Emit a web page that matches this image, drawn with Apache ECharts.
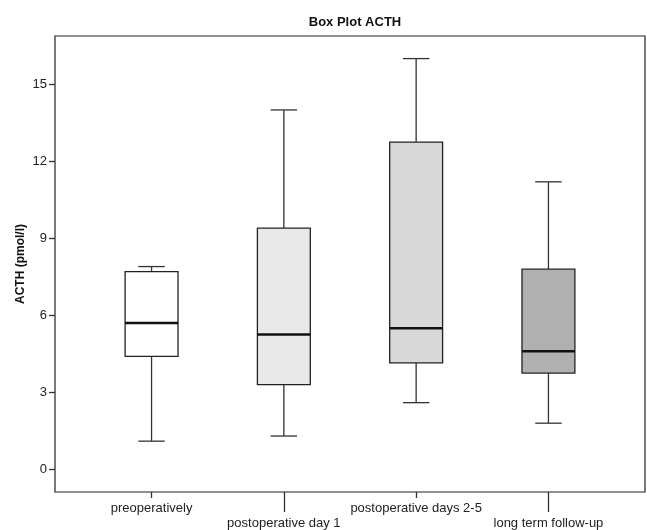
<!DOCTYPE html>
<html>
<head>
<meta charset="utf-8">
<script src="https://cdn.jsdelivr.net/npm/echarts@6/dist/echarts.min.js"></script>
<style>
html,body{margin:0;padding:0;background:#fff;}
#chart{width:647px;height:530px;}
</style>
</head>
<body>
<div id="chart"></div>
<script>
// ---- data ----
var categories = ['preoperatively', 'postoperative day 1', 'postoperative days 2-5', 'long term follow-up'];
var minVals = [1.1, 1.3, 2.6, 1.8];
var q1Vals = [4.4, 3.3, 4.15, 3.75];
var medVals = [5.7, 5.25, 5.5, 4.6];
var q3Vals = [7.7, 9.4, 12.75, 7.8];
var maxVals = [7.9, 14.0, 16.0, 11.2];
var yTicks = [0, 3, 6, 9, 12, 15];
var titleText = 'Box Plot ACTH';
var yName = 'ACTH (pmol/l)';

// ---- styles ----
var boxFills = ['#ffffff', '#e9e9e9', '#d9d9d9', '#b0b0b0'];
var FONT = 'Liberation Sans, Arial, sans-serif';

var boxData = categories.map(function (c, i) {
  return [i, minVals[i], q1Vals[i], medVals[i], q3Vals[i], maxVals[i]];
});
var evenIdx = [], oddIdx = [];
categories.forEach(function (c, i) { (i % 2 === 0 ? evenIdx : oddIdx).push(i); });

function catLabel(v) { var i = Math.round(v); return categories[i] || ''; }

var chart = echarts.init(document.getElementById('chart'), null, {renderer: 'canvas'});
var option = {
  backgroundColor: '#fff',
  animation: false,
  title: {
    text: titleText,
    left: 350, textAlign: 'center', top: 11,
    textStyle: {fontFamily: FONT, fontSize: 13, fontWeight: 'bold', color: '#111'}
  },
  grid: {
    left: 55, top: 36, right: 2, bottom: 38,
    show: true, borderColor: '#222', borderWidth: 1.2, backgroundColor: 'transparent'
  },
  xAxis: [{
    type: 'value', min: -0.73, max: 3.73, position: 'bottom',
    axisLine: {show: false, onZero: false},
    splitLine: {show: false},
    axisTick: {show: true, customValues: evenIdx, length: 6, lineStyle: {color: '#333', width: 1.3}},
    axisLabel: {customValues: evenIdx, formatter: catLabel, margin: 10,
      fontFamily: FONT, fontSize: 13, color: '#222'}
  }, {
    type: 'value', min: -0.73, max: 3.73, position: 'bottom', offset: 0,
    axisLine: {show: false, onZero: false},
    splitLine: {show: false},
    axisTick: {show: true, customValues: oddIdx, length: 20, lineStyle: {color: '#333', width: 1.3}},
    axisLabel: {customValues: oddIdx, formatter: catLabel, margin: 25,
      fontFamily: FONT, fontSize: 13, color: '#222'}
  }],
  yAxis: {
    type: 'value', min: -0.88, max: 16.88, position: 'left',
    name: yName, nameLocation: 'middle', nameGap: 28, nameMoveOverlap: false,
    nameTextStyle: {fontFamily: FONT, fontSize: 12, fontWeight: 'bold', color: '#111'},
    axisLine: {show: false, onZero: false},
    splitLine: {show: false},
    axisTick: {show: true, customValues: yTicks, length: 6, lineStyle: {color: '#333', width: 1.3}},
    axisLabel: {customValues: yTicks, margin: 8, fontFamily: FONT, fontSize: 13, color: '#222'}
  },
  series: [{
    type: 'custom',
    xAxisIndex: 0, yAxisIndex: 0,
    data: boxData,
    renderItem: function (params, api) {
      var x = api.value(0);
      var pMin = api.coord([x, api.value(1)]);
      var pQ1 = api.coord([x, api.value(2)]);
      var pMed = api.coord([x, api.value(3)]);
      var pQ3 = api.coord([x, api.value(4)]);
      var pMax = api.coord([x, api.value(5)]);
      var bw = api.size([0.4, 0])[0];
      var cw = api.size([0.2, 0])[0];
      var cx = pMed[0];
      var lineStyle = {stroke: '#333', lineWidth: 1.3};
      return {
        type: 'group',
        children: [
          {type: 'line', shape: {x1: cx, y1: pQ3[1], x2: cx, y2: pMax[1]}, style: lineStyle},
          {type: 'line', shape: {x1: cx - cw / 2, y1: pMax[1], x2: cx + cw / 2, y2: pMax[1]}, style: lineStyle},
          {type: 'line', shape: {x1: cx, y1: pQ1[1], x2: cx, y2: pMin[1]}, style: lineStyle},
          {type: 'line', shape: {x1: cx - cw / 2, y1: pMin[1], x2: cx + cw / 2, y2: pMin[1]}, style: lineStyle},
          {type: 'rect', shape: {x: cx - bw / 2, y: pQ3[1], width: bw, height: pQ1[1] - pQ3[1]},
            style: {fill: boxFills[params.dataIndex], stroke: '#222', lineWidth: 1.3}},
          {type: 'line', shape: {x1: cx - bw / 2, y1: pMed[1], x2: cx + bw / 2, y2: pMed[1]},
            style: {stroke: '#111', lineWidth: 2.5}}
        ]
      };
    }
  }]
};
chart.setOption(option);
</script>
</body>
</html>
